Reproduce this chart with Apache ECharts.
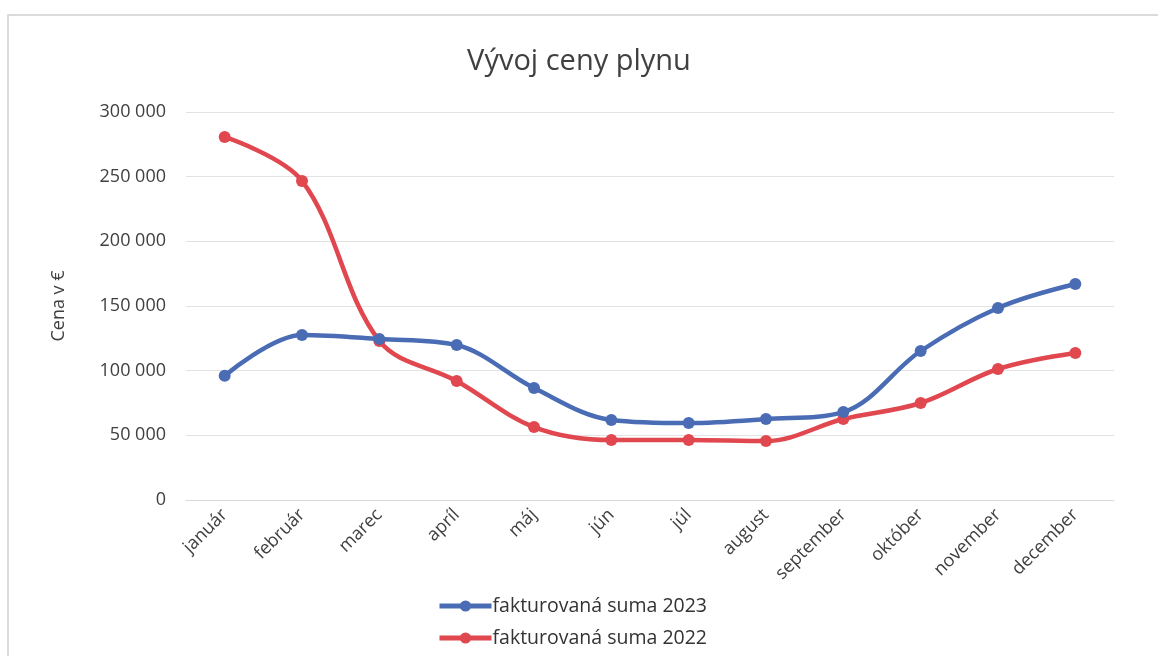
<!DOCTYPE html>
<html>
<head>
<meta charset="utf-8">
<title>Vývoj ceny plynu</title>
<script src="https://cdn.jsdelivr.net/npm/echarts@6/dist/echarts.min.js"></script>
<style>
  html, body { margin: 0; padding: 0; background: #fff; }
  #main { width: 1158px; height: 656px; }
</style>
</head>
<body>
<div id="main"></div>
<script>
var months = ['január', 'február', 'marec', 'apríl', 'máj', 'jún', 'júl', 'august', 'september', 'október', 'november', 'december'];
var suma2023 = [96000, 127600, 124500, 119800, 86600, 61900, 59500, 62600, 68000, 115200, 148500, 167000];
var suma2022 = [280700, 246700, 123000, 92000, 56400, 46400, 46400, 45600, 62600, 75000, 101300, 113700];
var yTicks = [0, 50000, 100000, 150000, 200000, 250000, 300000];

var font = '"Open Sans", "Noto Sans", sans-serif';

function fmt(v) {
    // 300000 -> "300 000"
    return String(v).replace(/\B(?=(\d{3})+(?!\d))/g, ' ');
}

var myChart = echarts.init(document.getElementById('main'));
var option = {
    backgroundColor: '#fff',
    textStyle: { fontFamily: font },
    title: {
        text: 'Vývoj ceny plynu',
        left: 'center',
        top: 42,
        textStyle: { fontSize: 29, fontWeight: 'normal', color: '#404040', fontFamily: font }
    },
    graphic: [{
        type: 'rect',
        shape: { x: 8, y: 15, width: 1160, height: 660 },
        style: { fill: 'none', stroke: '#cfcfcf', lineWidth: 1.5 },
        silent: true
    }],
    legend: {
        orient: 'vertical',
        left: 432,
        top: 591,
        itemGap: 12,
        itemWidth: 52,
        itemHeight: 14,
        lineStyle: { width: 5 },
        textStyle: { fontSize: 19.5, color: '#333', fontFamily: font, padding: [0, 0, 0, -4] },
        data: ['fakturovaná suma 2023', 'fakturovaná suma 2022']
    },
    grid: { left: 186, right: 44, top: 112, bottom: 156 },
    xAxis: {
        type: 'category',
        data: months,
        boundaryGap: true,
        axisLine: { show: true, lineStyle: { color: '#d9d9d9', width: 1 } },
        axisTick: { show: false },
        axisLabel: { rotate: 45, fontSize: 18, color: '#404040', margin: 12, interval: 0 }
    },
    yAxis: {
        type: 'value',
        min: yTicks[0],
        max: yTicks[yTicks.length - 1],
        interval: 50000,
        name: 'Cena v €',
        nameLocation: 'middle',
        nameGap: 118,
        nameRotate: 90,
        nameTextStyle: { fontSize: 18, color: '#404040', fontFamily: font },
        axisLine: { show: false },
        axisTick: { show: false },
        splitLine: { lineStyle: { color: '#e3e3e3', width: 1 } },
        axisLabel: { fontSize: 18, color: '#404040', margin: 20, formatter: fmt }
    },
    series: [{
        name: 'fakturovaná suma 2023',
        type: 'line',
        smooth: 0.35,
        data: suma2023,
        symbol: 'circle',
        symbolSize: 12,
        lineStyle: { width: 4.5, color: '#4a6cb5' },
        itemStyle: { color: '#4a6cb5' },
        z: 3
    }, {
        name: 'fakturovaná suma 2022',
        type: 'line',
        smooth: 0.35,
        data: suma2022,
        symbol: 'circle',
        symbolSize: 12,
        lineStyle: { width: 4.5, color: '#e0474f' },
        itemStyle: { color: '#e0474f' },
        z: 2
    }]
};
myChart.setOption(option);
</script>
</body>
</html>
